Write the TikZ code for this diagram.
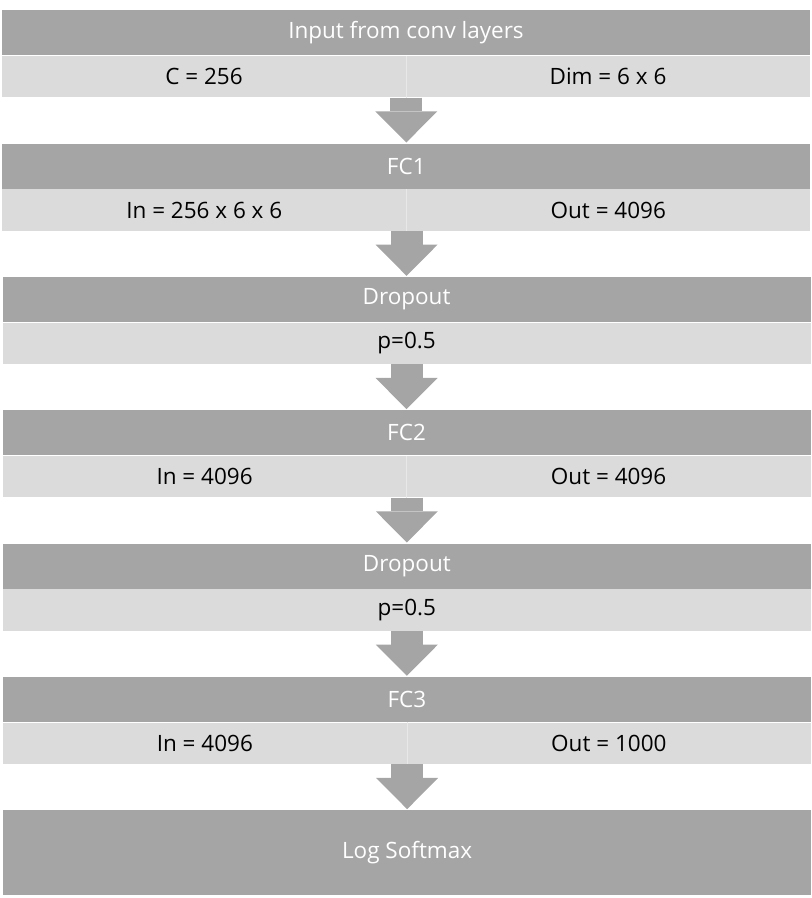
\documentclass[tikz,border=0pt]{standalone}
\usepackage{fontspec}
\setmainfont{Open Sans}
\usetikzlibrary{arrows.meta, positioning}
\definecolor{layergray}{RGB}{165,165,165}
\definecolor{paramgray}{RGB}{219,219,219}
\definecolor{splitgray}{RGB}{232,232,232}
\tikzstyle{layer} = [rectangle, fill=layergray, text=white, minimum width=20.2cm, minimum height=1.13cm, inner sep=0pt, font=\fontsize{16}{18}\selectfont]
\tikzstyle{param} = [rectangle, fill=paramgray, text=black, minimum width=20.2cm, minimum height=1.03cm, inner sep=0pt, font=\fontsize{16}{18}\selectfont]
\tikzstyle{halfparam} = [param, minimum width=10.1cm]
\tikzstyle{flow} = [draw=layergray, line width=0.8cm, -{Triangle[length=0.78cm, width=1.55cm, line width=0pt]}, shorten >=0.02cm]
\tikzstyle{split} = [draw=splitgray, line width=0.6pt]

\begin{document}
\begin{tikzpicture}[node distance=1.145cm]
        \useasboundingbox (0,0) rectangle (20.3,-22.45);

        % input block
        \node (conv) [layer, anchor=north] at (10.15,-0.25) {Input from conv layers};
        \node (convC) [halfparam, below=0pt of conv.south west, anchor=north west] {C = 256};
        \node (convDim) [halfparam, below=0pt of conv.south east, anchor=north east] {Dim = 6 x 6};

        % fully connected 1
        \node (fc1) [layer, below=of convC.south east, anchor=north] {FC1};
        \node (fc1In) [halfparam, below=0pt of fc1.south west, anchor=north west] {In = 256 x 6 x 6};
        \node (fc1Out) [halfparam, below=0pt of fc1.south east, anchor=north east] {Out = 4096};

        % dropout 1
        \node (drop1) [layer, below=of fc1In.south east, anchor=north] {Dropout};
        \node (drop1P) [param, below=0pt of drop1] {p=0.5};

        % fully connected 2
        \node (fc2) [layer, below=of drop1P] {FC2};
        \node (fc2In) [halfparam, below=0pt of fc2.south west, anchor=north west] {In = 4096};
        \node (fc2Out) [halfparam, below=0pt of fc2.south east, anchor=north east] {Out = 4096};

        % dropout 2
        \node (drop2) [layer, below=of fc2In.south east, anchor=north] {Dropout};
        \node (drop2P) [param, below=0pt of drop2] {p=0.5};

        % fully connected 3
        \node (fc3) [layer, below=of drop2P] {FC3};
        \node (fc3In) [halfparam, below=0pt of fc3.south west, anchor=north west] {In = 4096};
        \node (fc3Out) [halfparam, below=0pt of fc3.south east, anchor=north east] {Out = 1000};

        % output
        \node (softmax) [layer, minimum height=2.125cm, below=of fc3In.south east, anchor=north] {Log Softmax};

        \path [split] (convC.north east) -- (convC.south east);
        \path [split] (fc1In.north east) -- (fc1In.south east);
        \path [split] (fc2In.north east) -- (fc2In.south east);
        \path [split] (fc3In.north east) -- (fc3In.south east);

        \path [flow] (convC.south east) -- (fc1.north);
        \path [flow] (fc1In.south east) -- (drop1.north);
        \path [flow] (drop1P) -- (fc2.north);
        \path [flow] (fc2In.south east) -- (drop2.north);
        \path [flow] (drop2P) -- (fc3.north);
        \path [flow] (fc3In.south east) -- (softmax.north);

    \end{tikzpicture}
\end{document}
